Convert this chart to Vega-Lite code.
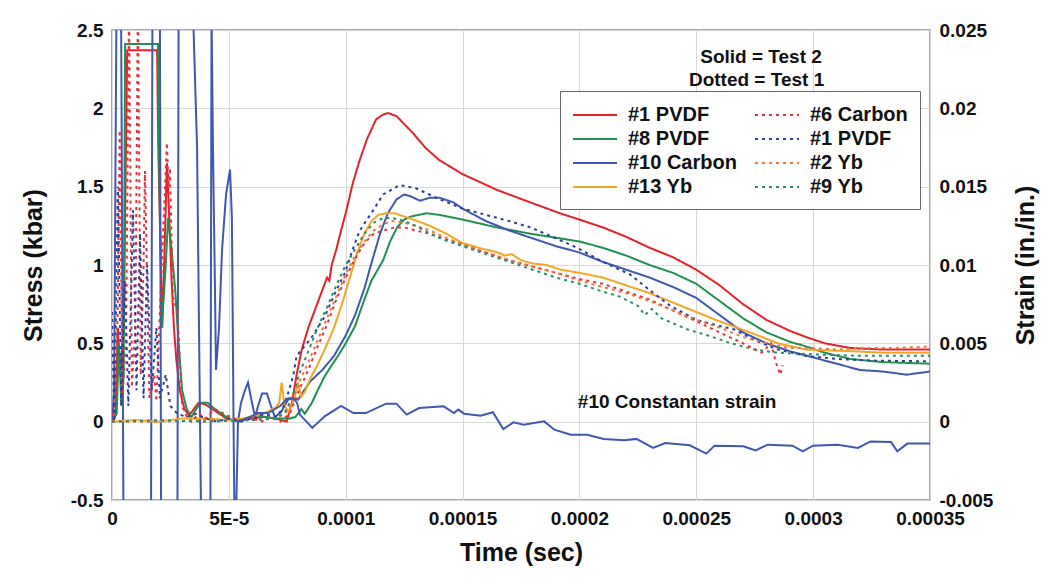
{
"$schema": "https://vega.github.io/schema/vega-lite/v6.json",
"width": 818, "height": 470,
"autosize": {"type": "none"},
"padding": {"left": 112, "top": 30, "right": 121, "bottom": 80},
"background": "white",
"config": {
 "font": "Liberation Sans",
 "view": {"stroke": "#8a8a8a", "strokeWidth": 1.5},
 "axis": {"labelFont": "Liberation Sans", "labelFontWeight": "bold", "labelFontSize": 19, "labelColor": "#111", "titleFont": "Liberation Sans", "titleFontWeight": "bold", "titleFontSize": 25, "titleColor": "#111", "gridColor": "#d9d9d9", "gridWidth": 1, "ticks": false, "domain": false, "labelPadding": 9},
 "legend": {"labelFont": "Liberation Sans", "labelFontWeight": "bold", "labelFontSize": 20, "labelColor": "#111", "symbolType": "M-1,0H3", "symbolSize": 484, "symbolStrokeWidth": 2, "strokeColor": "#666", "fillColor": "white", "padding": 12, "rowPadding": 2, "columnPadding": 14, "labelOffset": 32}
},
"datasets": {
 "stress": [
  {"series":"#1 PVDF (Test 2)","t":0,"stress":0},{"series":"#1 PVDF (Test 2)","t":1.5e-6,"stress":0.05},{"series":"#1 PVDF (Test 2)","t":2.5e-6,"stress":0.6},{"series":"#1 PVDF (Test 2)","t":3.5e-6,"stress":0.3},{"series":"#1 PVDF (Test 2)","t":5e-6,"stress":0.6},{"series":"#1 PVDF (Test 2)","t":6.5e-6,"stress":2.37},{"series":"#1 PVDF (Test 2)","t":19.3e-6,"stress":2.37},{"series":"#1 PVDF (Test 2)","t":19.8e-6,"stress":1.75},{"series":"#1 PVDF (Test 2)","t":20.6e-6,"stress":1.2},{"series":"#1 PVDF (Test 2)","t":21.5e-6,"stress":0.6},{"series":"#1 PVDF (Test 2)","t":22.5e-6,"stress":1.1},{"series":"#1 PVDF (Test 2)","t":23.5e-6,"stress":1.65},{"series":"#1 PVDF (Test 2)","t":24.5e-6,"stress":1.3},{"series":"#1 PVDF (Test 2)","t":25.5e-6,"stress":0.9},{"series":"#1 PVDF (Test 2)","t":26.5e-6,"stress":0.6},{"series":"#1 PVDF (Test 2)","t":27.5e-6,"stress":0.4},{"series":"#1 PVDF (Test 2)","t":29e-6,"stress":0.2},{"series":"#1 PVDF (Test 2)","t":31e-6,"stress":0.08},{"series":"#1 PVDF (Test 2)","t":33e-6,"stress":0.04},{"series":"#1 PVDF (Test 2)","t":35e-6,"stress":0.08},{"series":"#1 PVDF (Test 2)","t":37e-6,"stress":0.12},{"series":"#1 PVDF (Test 2)","t":40e-6,"stress":0.11},{"series":"#1 PVDF (Test 2)","t":43e-6,"stress":0.08},{"series":"#1 PVDF (Test 2)","t":46e-6,"stress":0.05},{"series":"#1 PVDF (Test 2)","t":50e-6,"stress":0.01},{"series":"#1 PVDF (Test 2)","t":55e-6,"stress":0.01},{"series":"#1 PVDF (Test 2)","t":60e-6,"stress":0.02},{"series":"#1 PVDF (Test 2)","t":65e-6,"stress":0.03},{"series":"#1 PVDF (Test 2)","t":70e-6,"stress":0.02},{"series":"#1 PVDF (Test 2)","t":74.7e-6,"stress":0.0},{"series":"#1 PVDF (Test 2)","t":77e-6,"stress":0.12},{"series":"#1 PVDF (Test 2)","t":79e-6,"stress":0.3},{"series":"#1 PVDF (Test 2)","t":81.2e-6,"stress":0.46},{"series":"#1 PVDF (Test 2)","t":84e-6,"stress":0.6},{"series":"#1 PVDF (Test 2)","t":87e-6,"stress":0.72},{"series":"#1 PVDF (Test 2)","t":90e-6,"stress":0.84},{"series":"#1 PVDF (Test 2)","t":92e-6,"stress":0.92},{"series":"#1 PVDF (Test 2)","t":93e-6,"stress":0.9},{"series":"#1 PVDF (Test 2)","t":94e-6,"stress":1.0},{"series":"#1 PVDF (Test 2)","t":96e-6,"stress":1.1},{"series":"#1 PVDF (Test 2)","t":98e-6,"stress":1.22},{"series":"#1 PVDF (Test 2)","t":100e-6,"stress":1.33},{"series":"#1 PVDF (Test 2)","t":103e-6,"stress":1.52},{"series":"#1 PVDF (Test 2)","t":106e-6,"stress":1.67},{"series":"#1 PVDF (Test 2)","t":109e-6,"stress":1.8},{"series":"#1 PVDF (Test 2)","t":113e-6,"stress":1.93},{"series":"#1 PVDF (Test 2)","t":116e-6,"stress":1.96},{"series":"#1 PVDF (Test 2)","t":118e-6,"stress":1.97},{"series":"#1 PVDF (Test 2)","t":121.8e-6,"stress":1.95},{"series":"#1 PVDF (Test 2)","t":125e-6,"stress":1.9},{"series":"#1 PVDF (Test 2)","t":128.9e-6,"stress":1.84},{"series":"#1 PVDF (Test 2)","t":134e-6,"stress":1.75},{"series":"#1 PVDF (Test 2)","t":140e-6,"stress":1.67},{"series":"#1 PVDF (Test 2)","t":150e-6,"stress":1.58},{"series":"#1 PVDF (Test 2)","t":164.6e-6,"stress":1.48},{"series":"#1 PVDF (Test 2)","t":178.9e-6,"stress":1.4},{"series":"#1 PVDF (Test 2)","t":191.7e-6,"stress":1.33},{"series":"#1 PVDF (Test 2)","t":200e-6,"stress":1.29},{"series":"#1 PVDF (Test 2)","t":210e-6,"stress":1.24},{"series":"#1 PVDF (Test 2)","t":220e-6,"stress":1.18},{"series":"#1 PVDF (Test 2)","t":230e-6,"stress":1.11},{"series":"#1 PVDF (Test 2)","t":240e-6,"stress":1.05},{"series":"#1 PVDF (Test 2)","t":250e-6,"stress":0.97},{"series":"#1 PVDF (Test 2)","t":260e-6,"stress":0.87},{"series":"#1 PVDF (Test 2)","t":270e-6,"stress":0.75},{"series":"#1 PVDF (Test 2)","t":280e-6,"stress":0.65},{"series":"#1 PVDF (Test 2)","t":290e-6,"stress":0.58},{"series":"#1 PVDF (Test 2)","t":297e-6,"stress":0.54},{"series":"#1 PVDF (Test 2)","t":305e-6,"stress":0.5},{"series":"#1 PVDF (Test 2)","t":316e-6,"stress":0.47},{"series":"#1 PVDF (Test 2)","t":330e-6,"stress":0.46},{"series":"#1 PVDF (Test 2)","t":340e-6,"stress":0.46},{"series":"#1 PVDF (Test 2)","t":350e-6,"stress":0.46},

  {"series":"#8 PVDF (Test 2)","t":0,"stress":0},{"series":"#8 PVDF (Test 2)","t":2e-6,"stress":0.05},{"series":"#8 PVDF (Test 2)","t":3e-6,"stress":0.5},{"series":"#8 PVDF (Test 2)","t":4e-6,"stress":0.1},{"series":"#8 PVDF (Test 2)","t":5e-6,"stress":0.3},{"series":"#8 PVDF (Test 2)","t":5.6e-6,"stress":2.41},{"series":"#8 PVDF (Test 2)","t":19.7e-6,"stress":2.41},{"series":"#8 PVDF (Test 2)","t":20.3e-6,"stress":1.5},{"series":"#8 PVDF (Test 2)","t":21.3e-6,"stress":0.6},{"series":"#8 PVDF (Test 2)","t":23e-6,"stress":1.0},{"series":"#8 PVDF (Test 2)","t":24e-6,"stress":1.3},{"series":"#8 PVDF (Test 2)","t":25.5e-6,"stress":1.1},{"series":"#8 PVDF (Test 2)","t":27e-6,"stress":0.85},{"series":"#8 PVDF (Test 2)","t":28.5e-6,"stress":0.5},{"series":"#8 PVDF (Test 2)","t":30e-6,"stress":0.2},{"series":"#8 PVDF (Test 2)","t":32e-6,"stress":0.08},{"series":"#8 PVDF (Test 2)","t":34e-6,"stress":0.03},{"series":"#8 PVDF (Test 2)","t":36e-6,"stress":0.08},{"series":"#8 PVDF (Test 2)","t":38e-6,"stress":0.12},{"series":"#8 PVDF (Test 2)","t":41e-6,"stress":0.12},{"series":"#8 PVDF (Test 2)","t":44e-6,"stress":0.08},{"series":"#8 PVDF (Test 2)","t":47e-6,"stress":0.05},{"series":"#8 PVDF (Test 2)","t":50e-6,"stress":0.02},{"series":"#8 PVDF (Test 2)","t":54e-6,"stress":0.0},{"series":"#8 PVDF (Test 2)","t":58e-6,"stress":0.02},{"series":"#8 PVDF (Test 2)","t":62e-6,"stress":0.04},{"series":"#8 PVDF (Test 2)","t":66e-6,"stress":0.03},{"series":"#8 PVDF (Test 2)","t":70e-6,"stress":0.02},{"series":"#8 PVDF (Test 2)","t":76e-6,"stress":0.02},{"series":"#8 PVDF (Test 2)","t":78.5e-6,"stress":0.03},{"series":"#8 PVDF (Test 2)","t":81e-6,"stress":0.08},{"series":"#8 PVDF (Test 2)","t":82.5e-6,"stress":0.05},{"series":"#8 PVDF (Test 2)","t":85.5e-6,"stress":0.12},{"series":"#8 PVDF (Test 2)","t":88e-6,"stress":0.2},{"series":"#8 PVDF (Test 2)","t":91e-6,"stress":0.29},{"series":"#8 PVDF (Test 2)","t":94e-6,"stress":0.36},{"series":"#8 PVDF (Test 2)","t":96.7e-6,"stress":0.42},{"series":"#8 PVDF (Test 2)","t":100e-6,"stress":0.5},{"series":"#8 PVDF (Test 2)","t":104e-6,"stress":0.61},{"series":"#8 PVDF (Test 2)","t":108e-6,"stress":0.78},{"series":"#8 PVDF (Test 2)","t":111e-6,"stress":0.9},{"series":"#8 PVDF (Test 2)","t":116e-6,"stress":1.03},{"series":"#8 PVDF (Test 2)","t":119e-6,"stress":1.15},{"series":"#8 PVDF (Test 2)","t":122e-6,"stress":1.24},{"series":"#8 PVDF (Test 2)","t":125e-6,"stress":1.29},{"series":"#8 PVDF (Test 2)","t":128e-6,"stress":1.31},{"series":"#8 PVDF (Test 2)","t":134.6e-6,"stress":1.33},{"series":"#8 PVDF (Test 2)","t":140e-6,"stress":1.32},{"series":"#8 PVDF (Test 2)","t":150e-6,"stress":1.29},{"series":"#8 PVDF (Test 2)","t":164.6e-6,"stress":1.24},{"series":"#8 PVDF (Test 2)","t":178.9e-6,"stress":1.2},{"series":"#8 PVDF (Test 2)","t":191.7e-6,"stress":1.17},{"series":"#8 PVDF (Test 2)","t":200e-6,"stress":1.15},{"series":"#8 PVDF (Test 2)","t":210e-6,"stress":1.11},{"series":"#8 PVDF (Test 2)","t":220e-6,"stress":1.06},{"series":"#8 PVDF (Test 2)","t":230e-6,"stress":1.0},{"series":"#8 PVDF (Test 2)","t":240e-6,"stress":0.95},{"series":"#8 PVDF (Test 2)","t":250e-6,"stress":0.88},{"series":"#8 PVDF (Test 2)","t":260e-6,"stress":0.77},{"series":"#8 PVDF (Test 2)","t":270e-6,"stress":0.66},{"series":"#8 PVDF (Test 2)","t":280e-6,"stress":0.57},{"series":"#8 PVDF (Test 2)","t":290e-6,"stress":0.51},{"series":"#8 PVDF (Test 2)","t":297e-6,"stress":0.48},{"series":"#8 PVDF (Test 2)","t":305e-6,"stress":0.44},{"series":"#8 PVDF (Test 2)","t":316e-6,"stress":0.4},{"series":"#8 PVDF (Test 2)","t":330e-6,"stress":0.38},{"series":"#8 PVDF (Test 2)","t":350e-6,"stress":0.37},

  {"series":"#10 Carbon (Test 2)","t":0,"stress":0},{"series":"#10 Carbon (Test 2)","t":0.9e-6,"stress":0.2},{"series":"#10 Carbon (Test 2)","t":1.9e-6,"stress":2.6},{"series":"#10 Carbon (Test 2)","t":3.9e-6,"stress":2.6},{"series":"#10 Carbon (Test 2)","t":4.9e-6,"stress":-0.6},{"series":"#10 Carbon (Test 2)","t":16.7e-6,"stress":-0.6},{"series":"#10 Carbon (Test 2)","t":17.3e-6,"stress":2.6},{"series":"#10 Carbon (Test 2)","t":20.5e-6,"stress":2.6},{"series":"#10 Carbon (Test 2)","t":21e-6,"stress":-0.6},{"series":"#10 Carbon (Test 2)","t":28e-6,"stress":-0.6},{"series":"#10 Carbon (Test 2)","t":28.5e-6,"stress":2.6},{"series":"#10 Carbon (Test 2)","t":34.7e-6,"stress":2.6},{"series":"#10 Carbon (Test 2)","t":36.4e-6,"stress":1.75},{"series":"#10 Carbon (Test 2)","t":38.1e-6,"stress":-0.6},{"series":"#10 Carbon (Test 2)","t":42.1e-6,"stress":-0.6},{"series":"#10 Carbon (Test 2)","t":42.6e-6,"stress":2.6},{"series":"#10 Carbon (Test 2)","t":43.2e-6,"stress":1.75},{"series":"#10 Carbon (Test 2)","t":44.1e-6,"stress":0.8},{"series":"#10 Carbon (Test 2)","t":44.5e-6,"stress":0.33},{"series":"#10 Carbon (Test 2)","t":45.8e-6,"stress":0.6},{"series":"#10 Carbon (Test 2)","t":47.1e-6,"stress":1.1},{"series":"#10 Carbon (Test 2)","t":48.8e-6,"stress":1.45},{"series":"#10 Carbon (Test 2)","t":50.5e-6,"stress":1.61},{"series":"#10 Carbon (Test 2)","t":51.3e-6,"stress":1.3},{"series":"#10 Carbon (Test 2)","t":52e-6,"stress":0.0},{"series":"#10 Carbon (Test 2)","t":52.4e-6,"stress":-0.6},{"series":"#10 Carbon (Test 2)","t":53.1e-6,"stress":-0.6},{"series":"#10 Carbon (Test 2)","t":53.9e-6,"stress":0.0},{"series":"#10 Carbon (Test 2)","t":55.2e-6,"stress":0.12},{"series":"#10 Carbon (Test 2)","t":56.9e-6,"stress":0.2},{"series":"#10 Carbon (Test 2)","t":58.2e-6,"stress":0.25},{"series":"#10 Carbon (Test 2)","t":59.5e-6,"stress":0.15},{"series":"#10 Carbon (Test 2)","t":61.2e-6,"stress":0.03},{"series":"#10 Carbon (Test 2)","t":62.5e-6,"stress":0.1},{"series":"#10 Carbon (Test 2)","t":64.2e-6,"stress":0.18},{"series":"#10 Carbon (Test 2)","t":66.3e-6,"stress":0.18},{"series":"#10 Carbon (Test 2)","t":68e-6,"stress":0.1},{"series":"#10 Carbon (Test 2)","t":69.7e-6,"stress":0.03},{"series":"#10 Carbon (Test 2)","t":72.3e-6,"stress":0.06},{"series":"#10 Carbon (Test 2)","t":75.3e-6,"stress":0.14},{"series":"#10 Carbon (Test 2)","t":77.5e-6,"stress":0.15},{"series":"#10 Carbon (Test 2)","t":79.6e-6,"stress":0.14},{"series":"#10 Carbon (Test 2)","t":81.3e-6,"stress":0.18},{"series":"#10 Carbon (Test 2)","t":85e-6,"stress":0.26},{"series":"#10 Carbon (Test 2)","t":90e-6,"stress":0.33},{"series":"#10 Carbon (Test 2)","t":95e-6,"stress":0.42},{"series":"#10 Carbon (Test 2)","t":100e-6,"stress":0.55},{"series":"#10 Carbon (Test 2)","t":104e-6,"stress":0.68},{"series":"#10 Carbon (Test 2)","t":108e-6,"stress":0.85},{"series":"#10 Carbon (Test 2)","t":110.4e-6,"stress":0.98},{"series":"#10 Carbon (Test 2)","t":114.7e-6,"stress":1.2},{"series":"#10 Carbon (Test 2)","t":118e-6,"stress":1.33},{"series":"#10 Carbon (Test 2)","t":121.8e-6,"stress":1.42},{"series":"#10 Carbon (Test 2)","t":125e-6,"stress":1.45},{"series":"#10 Carbon (Test 2)","t":127.5e-6,"stress":1.44},{"series":"#10 Carbon (Test 2)","t":131.8e-6,"stress":1.41},{"series":"#10 Carbon (Test 2)","t":136e-6,"stress":1.43},{"series":"#10 Carbon (Test 2)","t":140e-6,"stress":1.43},{"series":"#10 Carbon (Test 2)","t":146e-6,"stress":1.4},{"series":"#10 Carbon (Test 2)","t":150e-6,"stress":1.36},{"series":"#10 Carbon (Test 2)","t":160e-6,"stress":1.28},{"series":"#10 Carbon (Test 2)","t":170e-6,"stress":1.22},{"series":"#10 Carbon (Test 2)","t":180e-6,"stress":1.17},{"series":"#10 Carbon (Test 2)","t":190e-6,"stress":1.12},{"series":"#10 Carbon (Test 2)","t":200e-6,"stress":1.08},{"series":"#10 Carbon (Test 2)","t":210e-6,"stress":1.02},{"series":"#10 Carbon (Test 2)","t":220e-6,"stress":0.97},{"series":"#10 Carbon (Test 2)","t":230e-6,"stress":0.92},{"series":"#10 Carbon (Test 2)","t":240e-6,"stress":0.86},{"series":"#10 Carbon (Test 2)","t":250e-6,"stress":0.79},{"series":"#10 Carbon (Test 2)","t":260e-6,"stress":0.68},{"series":"#10 Carbon (Test 2)","t":270e-6,"stress":0.57},{"series":"#10 Carbon (Test 2)","t":280e-6,"stress":0.5},{"series":"#10 Carbon (Test 2)","t":290e-6,"stress":0.45},{"series":"#10 Carbon (Test 2)","t":300e-6,"stress":0.41},{"series":"#10 Carbon (Test 2)","t":310e-6,"stress":0.37},{"series":"#10 Carbon (Test 2)","t":320e-6,"stress":0.33},{"series":"#10 Carbon (Test 2)","t":330e-6,"stress":0.32},{"series":"#10 Carbon (Test 2)","t":340e-6,"stress":0.3},{"series":"#10 Carbon (Test 2)","t":350e-6,"stress":0.32},

  {"series":"#13 Yb (Test 2)","t":0,"stress":0},{"series":"#13 Yb (Test 2)","t":10e-6,"stress":0.01},{"series":"#13 Yb (Test 2)","t":20e-6,"stress":0.0},{"series":"#13 Yb (Test 2)","t":30e-6,"stress":0.02},{"series":"#13 Yb (Test 2)","t":40e-6,"stress":0.02},{"series":"#13 Yb (Test 2)","t":50e-6,"stress":0.01},{"series":"#13 Yb (Test 2)","t":56e-6,"stress":0.02},{"series":"#13 Yb (Test 2)","t":62e-6,"stress":0.04},{"series":"#13 Yb (Test 2)","t":66e-6,"stress":0.06},{"series":"#13 Yb (Test 2)","t":70e-6,"stress":0.09},{"series":"#13 Yb (Test 2)","t":71.5e-6,"stress":0.12},{"series":"#13 Yb (Test 2)","t":72.6e-6,"stress":0.25},{"series":"#13 Yb (Test 2)","t":73.8e-6,"stress":0.1},{"series":"#13 Yb (Test 2)","t":76e-6,"stress":0.06},{"series":"#13 Yb (Test 2)","t":78e-6,"stress":0.15},{"series":"#13 Yb (Test 2)","t":79.6e-6,"stress":0.25},{"series":"#13 Yb (Test 2)","t":81e-6,"stress":0.16},{"series":"#13 Yb (Test 2)","t":82.5e-6,"stress":0.19},{"series":"#13 Yb (Test 2)","t":85e-6,"stress":0.28},{"series":"#13 Yb (Test 2)","t":87.5e-6,"stress":0.35},{"series":"#13 Yb (Test 2)","t":91e-6,"stress":0.46},{"series":"#13 Yb (Test 2)","t":95e-6,"stress":0.6},{"series":"#13 Yb (Test 2)","t":99e-6,"stress":0.78},{"series":"#13 Yb (Test 2)","t":102e-6,"stress":0.93},{"series":"#13 Yb (Test 2)","t":105e-6,"stress":1.08},{"series":"#13 Yb (Test 2)","t":108e-6,"stress":1.2},{"series":"#13 Yb (Test 2)","t":111e-6,"stress":1.28},{"series":"#13 Yb (Test 2)","t":114e-6,"stress":1.32},{"series":"#13 Yb (Test 2)","t":117e-6,"stress":1.33},{"series":"#13 Yb (Test 2)","t":121e-6,"stress":1.33},{"series":"#13 Yb (Test 2)","t":125e-6,"stress":1.31},{"series":"#13 Yb (Test 2)","t":129e-6,"stress":1.29},{"series":"#13 Yb (Test 2)","t":136e-6,"stress":1.25},{"series":"#13 Yb (Test 2)","t":143e-6,"stress":1.2},{"series":"#13 Yb (Test 2)","t":150e-6,"stress":1.14},{"series":"#13 Yb (Test 2)","t":157e-6,"stress":1.11},{"series":"#13 Yb (Test 2)","t":165e-6,"stress":1.08},{"series":"#13 Yb (Test 2)","t":168e-6,"stress":1.06},{"series":"#13 Yb (Test 2)","t":171e-6,"stress":1.07},{"series":"#13 Yb (Test 2)","t":175e-6,"stress":1.03},{"series":"#13 Yb (Test 2)","t":180e-6,"stress":1.01},{"series":"#13 Yb (Test 2)","t":186e-6,"stress":1.0},{"series":"#13 Yb (Test 2)","t":192e-6,"stress":0.97},{"series":"#13 Yb (Test 2)","t":200e-6,"stress":0.95},{"series":"#13 Yb (Test 2)","t":210e-6,"stress":0.92},{"series":"#13 Yb (Test 2)","t":220e-6,"stress":0.87},{"series":"#13 Yb (Test 2)","t":230e-6,"stress":0.82},{"series":"#13 Yb (Test 2)","t":240e-6,"stress":0.76},{"series":"#13 Yb (Test 2)","t":250e-6,"stress":0.7},{"series":"#13 Yb (Test 2)","t":260e-6,"stress":0.64},{"series":"#13 Yb (Test 2)","t":273e-6,"stress":0.57},{"series":"#13 Yb (Test 2)","t":285e-6,"stress":0.5},{"series":"#13 Yb (Test 2)","t":297e-6,"stress":0.46},{"series":"#13 Yb (Test 2)","t":316e-6,"stress":0.45},{"series":"#13 Yb (Test 2)","t":330e-6,"stress":0.44},{"series":"#13 Yb (Test 2)","t":350e-6,"stress":0.44},

  {"series":"#6 Carbon (Test 1)","t":0,"stress":0},{"series":"#6 Carbon (Test 1)","t":2e-6,"stress":0.2},{"series":"#6 Carbon (Test 1)","t":3.3e-6,"stress":1.86},{"series":"#6 Carbon (Test 1)","t":4.5e-6,"stress":0.17},{"series":"#6 Carbon (Test 1)","t":6e-6,"stress":0.5},{"series":"#6 Carbon (Test 1)","t":7.3e-6,"stress":2.7},{"series":"#6 Carbon (Test 1)","t":8.5e-6,"stress":0.22},{"series":"#6 Carbon (Test 1)","t":10e-6,"stress":0.6},{"series":"#6 Carbon (Test 1)","t":11.1e-6,"stress":2.7},{"series":"#6 Carbon (Test 1)","t":12.3e-6,"stress":0.3},{"series":"#6 Carbon (Test 1)","t":13.5e-6,"stress":1.0},{"series":"#6 Carbon (Test 1)","t":14.1e-6,"stress":1.6},{"series":"#6 Carbon (Test 1)","t":16e-6,"stress":0.15},{"series":"#6 Carbon (Test 1)","t":18e-6,"stress":0.3},{"series":"#6 Carbon (Test 1)","t":19e-6,"stress":0.13},{"series":"#6 Carbon (Test 1)","t":21e-6,"stress":0.9},{"series":"#6 Carbon (Test 1)","t":23.5e-6,"stress":1.78},{"series":"#6 Carbon (Test 1)","t":24.2e-6,"stress":1.5},{"series":"#6 Carbon (Test 1)","t":24.8e-6,"stress":1.62},{"series":"#6 Carbon (Test 1)","t":26e-6,"stress":0.8},{"series":"#6 Carbon (Test 1)","t":28e-6,"stress":0.7},{"series":"#6 Carbon (Test 1)","t":29e-6,"stress":0.4},{"series":"#6 Carbon (Test 1)","t":30e-6,"stress":0.1},{"series":"#6 Carbon (Test 1)","t":32e-6,"stress":0.03},{"series":"#6 Carbon (Test 1)","t":34e-6,"stress":0.0},{"series":"#6 Carbon (Test 1)","t":37e-6,"stress":0.05},{"series":"#6 Carbon (Test 1)","t":40e-6,"stress":0.02},{"series":"#6 Carbon (Test 1)","t":44e-6,"stress":0.08},{"series":"#6 Carbon (Test 1)","t":48e-6,"stress":0.05},{"series":"#6 Carbon (Test 1)","t":52e-6,"stress":0.02},{"series":"#6 Carbon (Test 1)","t":56e-6,"stress":0.01},{"series":"#6 Carbon (Test 1)","t":60e-6,"stress":0.02},{"series":"#6 Carbon (Test 1)","t":64e-6,"stress":0.0},{"series":"#6 Carbon (Test 1)","t":68e-6,"stress":0.03},{"series":"#6 Carbon (Test 1)","t":72e-6,"stress":0.0},{"series":"#6 Carbon (Test 1)","t":76e-6,"stress":0.05},{"series":"#6 Carbon (Test 1)","t":80e-6,"stress":0.2},{"series":"#6 Carbon (Test 1)","t":84e-6,"stress":0.33},{"series":"#6 Carbon (Test 1)","t":88e-6,"stress":0.48},{"series":"#6 Carbon (Test 1)","t":92e-6,"stress":0.62},{"series":"#6 Carbon (Test 1)","t":96e-6,"stress":0.78},{"series":"#6 Carbon (Test 1)","t":100e-6,"stress":0.92},{"series":"#6 Carbon (Test 1)","t":104e-6,"stress":1.04},{"series":"#6 Carbon (Test 1)","t":108e-6,"stress":1.14},{"series":"#6 Carbon (Test 1)","t":112e-6,"stress":1.2},{"series":"#6 Carbon (Test 1)","t":116e-6,"stress":1.22},{"series":"#6 Carbon (Test 1)","t":121e-6,"stress":1.24},{"series":"#6 Carbon (Test 1)","t":125e-6,"stress":1.24},{"series":"#6 Carbon (Test 1)","t":130e-6,"stress":1.22},{"series":"#6 Carbon (Test 1)","t":136e-6,"stress":1.2},{"series":"#6 Carbon (Test 1)","t":142e-6,"stress":1.17},{"series":"#6 Carbon (Test 1)","t":150e-6,"stress":1.13},{"series":"#6 Carbon (Test 1)","t":160e-6,"stress":1.08},{"series":"#6 Carbon (Test 1)","t":170e-6,"stress":1.03},{"series":"#6 Carbon (Test 1)","t":180e-6,"stress":0.99},{"series":"#6 Carbon (Test 1)","t":190e-6,"stress":0.95},{"series":"#6 Carbon (Test 1)","t":200e-6,"stress":0.91},{"series":"#6 Carbon (Test 1)","t":210e-6,"stress":0.88},{"series":"#6 Carbon (Test 1)","t":220e-6,"stress":0.83},{"series":"#6 Carbon (Test 1)","t":230e-6,"stress":0.78},{"series":"#6 Carbon (Test 1)","t":240e-6,"stress":0.71},{"series":"#6 Carbon (Test 1)","t":250e-6,"stress":0.64},{"series":"#6 Carbon (Test 1)","t":260e-6,"stress":0.57},{"series":"#6 Carbon (Test 1)","t":270e-6,"stress":0.5},{"series":"#6 Carbon (Test 1)","t":278e-6,"stress":0.44},{"series":"#6 Carbon (Test 1)","t":282e-6,"stress":0.5},{"series":"#6 Carbon (Test 1)","t":284e-6,"stress":0.38},{"series":"#6 Carbon (Test 1)","t":286e-6,"stress":0.3},{"series":"#6 Carbon (Test 1)","t":287e-6,"stress":0.36},

  {"series":"#1 PVDF (Test 1)","t":0,"stress":0.7},{"series":"#1 PVDF (Test 1)","t":1e-6,"stress":0.0},{"series":"#1 PVDF (Test 1)","t":2.5e-6,"stress":1.5},{"series":"#1 PVDF (Test 1)","t":4e-6,"stress":0.1},{"series":"#1 PVDF (Test 1)","t":5.5e-6,"stress":0.9},{"series":"#1 PVDF (Test 1)","t":7e-6,"stress":0.1},{"series":"#1 PVDF (Test 1)","t":9e-6,"stress":1.35},{"series":"#1 PVDF (Test 1)","t":10.5e-6,"stress":0.2},{"series":"#1 PVDF (Test 1)","t":12e-6,"stress":1.2},{"series":"#1 PVDF (Test 1)","t":13.5e-6,"stress":0.15},{"series":"#1 PVDF (Test 1)","t":15e-6,"stress":1.0},{"series":"#1 PVDF (Test 1)","t":17e-6,"stress":0.2},{"series":"#1 PVDF (Test 1)","t":19e-6,"stress":0.6},{"series":"#1 PVDF (Test 1)","t":20.5e-6,"stress":0.15},{"series":"#1 PVDF (Test 1)","t":23e-6,"stress":0.3},{"series":"#1 PVDF (Test 1)","t":25e-6,"stress":0.1},{"series":"#1 PVDF (Test 1)","t":28e-6,"stress":0.05},{"series":"#1 PVDF (Test 1)","t":32e-6,"stress":0.03},{"series":"#1 PVDF (Test 1)","t":36e-6,"stress":0.05},{"series":"#1 PVDF (Test 1)","t":40e-6,"stress":0.02},{"series":"#1 PVDF (Test 1)","t":45e-6,"stress":0.0},{"series":"#1 PVDF (Test 1)","t":50e-6,"stress":0.02},{"series":"#1 PVDF (Test 1)","t":55e-6,"stress":0.0},{"series":"#1 PVDF (Test 1)","t":60e-6,"stress":0.02},{"series":"#1 PVDF (Test 1)","t":65e-6,"stress":0.05},{"series":"#1 PVDF (Test 1)","t":70e-6,"stress":0.03},{"series":"#1 PVDF (Test 1)","t":73e-6,"stress":0.08},{"series":"#1 PVDF (Test 1)","t":75.3e-6,"stress":0.18},{"series":"#1 PVDF (Test 1)","t":77.5e-6,"stress":0.29},{"series":"#1 PVDF (Test 1)","t":79e-6,"stress":0.42},{"series":"#1 PVDF (Test 1)","t":85.5e-6,"stress":0.54},{"series":"#1 PVDF (Test 1)","t":91e-6,"stress":0.67},{"series":"#1 PVDF (Test 1)","t":95.4e-6,"stress":0.82},{"series":"#1 PVDF (Test 1)","t":99.7e-6,"stress":0.95},{"series":"#1 PVDF (Test 1)","t":103e-6,"stress":1.1},{"series":"#1 PVDF (Test 1)","t":106e-6,"stress":1.22},{"series":"#1 PVDF (Test 1)","t":111.8e-6,"stress":1.35},{"series":"#1 PVDF (Test 1)","t":116e-6,"stress":1.45},{"series":"#1 PVDF (Test 1)","t":123e-6,"stress":1.51},{"series":"#1 PVDF (Test 1)","t":130e-6,"stress":1.49},{"series":"#1 PVDF (Test 1)","t":140e-6,"stress":1.42},{"series":"#1 PVDF (Test 1)","t":150e-6,"stress":1.36},{"series":"#1 PVDF (Test 1)","t":160e-6,"stress":1.32},{"series":"#1 PVDF (Test 1)","t":170e-6,"stress":1.28},{"series":"#1 PVDF (Test 1)","t":179e-6,"stress":1.24},{"series":"#1 PVDF (Test 1)","t":190e-6,"stress":1.17},{"series":"#1 PVDF (Test 1)","t":199e-6,"stress":1.11},{"series":"#1 PVDF (Test 1)","t":210e-6,"stress":1.02},{"series":"#1 PVDF (Test 1)","t":221.6e-6,"stress":0.94},{"series":"#1 PVDF (Test 1)","t":230e-6,"stress":0.84},{"series":"#1 PVDF (Test 1)","t":238.8e-6,"stress":0.74},{"series":"#1 PVDF (Test 1)","t":250e-6,"stress":0.65},{"series":"#1 PVDF (Test 1)","t":260e-6,"stress":0.61},{"series":"#1 PVDF (Test 1)","t":266e-6,"stress":0.59},{"series":"#1 PVDF (Test 1)","t":275e-6,"stress":0.52},{"series":"#1 PVDF (Test 1)","t":285e-6,"stress":0.46},{"series":"#1 PVDF (Test 1)","t":297e-6,"stress":0.42},{"series":"#1 PVDF (Test 1)","t":310e-6,"stress":0.4},{"series":"#1 PVDF (Test 1)","t":325e-6,"stress":0.39},{"series":"#1 PVDF (Test 1)","t":350e-6,"stress":0.385},

  {"series":"#2 Yb (Test 1)","t":0,"stress":0},{"series":"#2 Yb (Test 1)","t":20e-6,"stress":0.0},{"series":"#2 Yb (Test 1)","t":40e-6,"stress":0.01},{"series":"#2 Yb (Test 1)","t":60e-6,"stress":0.01},{"series":"#2 Yb (Test 1)","t":70e-6,"stress":0.02},{"series":"#2 Yb (Test 1)","t":74e-6,"stress":0.05},{"series":"#2 Yb (Test 1)","t":77e-6,"stress":0.12},{"series":"#2 Yb (Test 1)","t":80e-6,"stress":0.25},{"series":"#2 Yb (Test 1)","t":84e-6,"stress":0.38},{"series":"#2 Yb (Test 1)","t":88e-6,"stress":0.52},{"series":"#2 Yb (Test 1)","t":92e-6,"stress":0.66},{"series":"#2 Yb (Test 1)","t":96e-6,"stress":0.8},{"series":"#2 Yb (Test 1)","t":100e-6,"stress":0.94},{"series":"#2 Yb (Test 1)","t":104e-6,"stress":1.06},{"series":"#2 Yb (Test 1)","t":108e-6,"stress":1.15},{"series":"#2 Yb (Test 1)","t":112e-6,"stress":1.22},{"series":"#2 Yb (Test 1)","t":116e-6,"stress":1.26},{"series":"#2 Yb (Test 1)","t":120e-6,"stress":1.28},{"series":"#2 Yb (Test 1)","t":125e-6,"stress":1.27},{"series":"#2 Yb (Test 1)","t":130e-6,"stress":1.25},{"series":"#2 Yb (Test 1)","t":136e-6,"stress":1.22},{"series":"#2 Yb (Test 1)","t":142e-6,"stress":1.18},{"series":"#2 Yb (Test 1)","t":150e-6,"stress":1.13},{"series":"#2 Yb (Test 1)","t":160e-6,"stress":1.08},{"series":"#2 Yb (Test 1)","t":170e-6,"stress":1.03},{"series":"#2 Yb (Test 1)","t":180e-6,"stress":0.99},{"series":"#2 Yb (Test 1)","t":190e-6,"stress":0.95},{"series":"#2 Yb (Test 1)","t":200e-6,"stress":0.9},{"series":"#2 Yb (Test 1)","t":210e-6,"stress":0.86},{"series":"#2 Yb (Test 1)","t":220e-6,"stress":0.82},{"series":"#2 Yb (Test 1)","t":230e-6,"stress":0.77},{"series":"#2 Yb (Test 1)","t":240e-6,"stress":0.71},{"series":"#2 Yb (Test 1)","t":250e-6,"stress":0.65},{"series":"#2 Yb (Test 1)","t":260e-6,"stress":0.6},{"series":"#2 Yb (Test 1)","t":270e-6,"stress":0.54},{"series":"#2 Yb (Test 1)","t":280e-6,"stress":0.5},{"series":"#2 Yb (Test 1)","t":290e-6,"stress":0.47},{"series":"#2 Yb (Test 1)","t":300e-6,"stress":0.47},{"series":"#2 Yb (Test 1)","t":310e-6,"stress":0.46},{"series":"#2 Yb (Test 1)","t":320e-6,"stress":0.47},{"series":"#2 Yb (Test 1)","t":335e-6,"stress":0.47},{"series":"#2 Yb (Test 1)","t":350e-6,"stress":0.48},

  {"series":"#9 Yb (Test 1)","t":0,"stress":0},{"series":"#9 Yb (Test 1)","t":20e-6,"stress":0.01},{"series":"#9 Yb (Test 1)","t":40e-6,"stress":0.0},{"series":"#9 Yb (Test 1)","t":60e-6,"stress":0.01},{"series":"#9 Yb (Test 1)","t":70e-6,"stress":0.02},{"series":"#9 Yb (Test 1)","t":74e-6,"stress":0.06},{"series":"#9 Yb (Test 1)","t":77e-6,"stress":0.15},{"series":"#9 Yb (Test 1)","t":80e-6,"stress":0.3},{"series":"#9 Yb (Test 1)","t":84e-6,"stress":0.45},{"series":"#9 Yb (Test 1)","t":88e-6,"stress":0.6},{"series":"#9 Yb (Test 1)","t":92e-6,"stress":0.73},{"series":"#9 Yb (Test 1)","t":96e-6,"stress":0.87},{"series":"#9 Yb (Test 1)","t":100e-6,"stress":1.0},{"series":"#9 Yb (Test 1)","t":104e-6,"stress":1.1},{"series":"#9 Yb (Test 1)","t":108e-6,"stress":1.2},{"series":"#9 Yb (Test 1)","t":112e-6,"stress":1.27},{"series":"#9 Yb (Test 1)","t":116e-6,"stress":1.3},{"series":"#9 Yb (Test 1)","t":120e-6,"stress":1.3},{"series":"#9 Yb (Test 1)","t":125e-6,"stress":1.28},{"series":"#9 Yb (Test 1)","t":130e-6,"stress":1.25},{"series":"#9 Yb (Test 1)","t":136e-6,"stress":1.2},{"series":"#9 Yb (Test 1)","t":142e-6,"stress":1.16},{"series":"#9 Yb (Test 1)","t":150e-6,"stress":1.12},{"series":"#9 Yb (Test 1)","t":160e-6,"stress":1.07},{"series":"#9 Yb (Test 1)","t":170e-6,"stress":1.02},{"series":"#9 Yb (Test 1)","t":180e-6,"stress":0.97},{"series":"#9 Yb (Test 1)","t":190e-6,"stress":0.92},{"series":"#9 Yb (Test 1)","t":200e-6,"stress":0.88},{"series":"#9 Yb (Test 1)","t":210e-6,"stress":0.83},{"series":"#9 Yb (Test 1)","t":217e-6,"stress":0.8},{"series":"#9 Yb (Test 1)","t":225e-6,"stress":0.74},{"series":"#9 Yb (Test 1)","t":228e-6,"stress":0.68},{"series":"#9 Yb (Test 1)","t":231e-6,"stress":0.72},{"series":"#9 Yb (Test 1)","t":235e-6,"stress":0.66},{"series":"#9 Yb (Test 1)","t":246e-6,"stress":0.59},{"series":"#9 Yb (Test 1)","t":255e-6,"stress":0.55},{"series":"#9 Yb (Test 1)","t":265e-6,"stress":0.5},{"series":"#9 Yb (Test 1)","t":275e-6,"stress":0.46},{"series":"#9 Yb (Test 1)","t":285e-6,"stress":0.44},{"series":"#9 Yb (Test 1)","t":300e-6,"stress":0.43},{"series":"#9 Yb (Test 1)","t":320e-6,"stress":0.42},{"series":"#9 Yb (Test 1)","t":335e-6,"stress":0.42},{"series":"#9 Yb (Test 1)","t":350e-6,"stress":0.42}
 ],
 "strain": [
  {"t":53.9e-6,"strain":0.0},{"t":59e-6,"strain":0.0003},{"t":62.5e-6,"strain":0.00055},{"t":66.8e-6,"strain":0.00055},{"t":71.9e-6,"strain":0.001},{"t":75.3e-6,"strain":0.0015},{"t":77.5e-6,"strain":0.0015},{"t":79.2e-6,"strain":0.0012},{"t":80.4e-6,"strain":0.00045},{"t":85.7e-6,"strain":-0.0004},{"t":91e-6,"strain":0.00034},{"t":98e-6,"strain":0.001},{"t":103.3e-6,"strain":0.00055},{"t":108.6e-6,"strain":0.00055},{"t":117.3e-6,"strain":0.00115},{"t":121.7e-6,"strain":0.00115},{"t":126.1e-6,"strain":0.00045},{"t":131.4e-6,"strain":0.00087},{"t":141.9e-6,"strain":0.00098},{"t":146.3e-6,"strain":0.00055},{"t":148.1e-6,"strain":0.00077},{"t":150.7e-6,"strain":0.00051},{"t":157.7e-6,"strain":0.00038},{"t":163e-6,"strain":0.0006},{"t":167.4e-6,"strain":-0.00047},{"t":171.8e-6,"strain":-0.00004},{"t":176.1e-6,"strain":-0.00019},{"t":184.9e-6,"strain":0.00002},{"t":189.3e-6,"strain":-0.00051},{"t":196.3e-6,"strain":-0.00083},{"t":203.3e-6,"strain":-0.00083},{"t":210.4e-6,"strain":-0.0011},{"t":219.2e-6,"strain":-0.00119},{"t":224.4e-6,"strain":-0.0011},{"t":231.5e-6,"strain":-0.00168},{"t":236.7e-6,"strain":-0.00136},{"t":247.2e-6,"strain":-0.00151},{"t":254.3e-6,"strain":-0.00204},{"t":257.8e-6,"strain":-0.00153},{"t":270.1e-6,"strain":-0.00157},{"t":275.4e-6,"strain":-0.00183},{"t":280.6e-6,"strain":-0.00147},{"t":291.1e-6,"strain":-0.00153},{"t":295.6e-6,"strain":-0.00189},{"t":299.9e-6,"strain":-0.00153},{"t":310.4e-6,"strain":-0.00147},{"t":319.2e-6,"strain":-0.00168},{"t":324.5e-6,"strain":-0.00126},{"t":333.3e-6,"strain":-0.0013},{"t":336e-6,"strain":-0.00189},{"t":340.3e-6,"strain":-0.0014},{"t":350e-6,"strain":-0.0014}
 ],
 "notes": [
  {"t":277.7e-6,"stress":2.33,"label":"Solid = Test 2"},
  {"t":275.8e-6,"stress":2.183,"label":"Dotted = Test 1"},
  {"t":241.8e-6,"stress":0.128,"label":"#10 Constantan strain"}
 ]
},
"encoding": {
 "x": {"field": "t", "type": "quantitative", "scale": {"domain": [0, 0.00035], "nice": false, "zero": false},
  "axis": {"title": "Time (sec)", "values": [0, 0.00005, 0.0001, 0.00015, 0.0002, 0.00025, 0.0003, 0.00035], "labelExpr": "['0','5E-5','0.0001','0.00015','0.0002','0.00025','0.0003','0.00035'][round(datum.value/0.00005)]", "titlePadding": 12, "labelFlush": false}}
},
"layer": [
 {
  "encoding": {
   "y": {"field": "stress", "type": "quantitative", "scale": {"domain": [-0.5, 2.5], "nice": false, "zero": false},
    "axis": {"title": "Stress (kbar)", "values": [-0.5, 0, 0.5, 1, 1.5, 2, 2.5], "labelExpr": "['-0.5','0','0.5','1','1.5','2','2.5'][round((datum.value+0.5)/0.5)]", "titlePadding": 24}}
  },
  "layer": [
   {"data": {"name": "stress"}, "mark": {"type": "line", "clip": true, "strokeWidth": 2},
    "encoding": {
     "color": {"field": "series", "type": "nominal",
      "scale": {"domain": ["#1 PVDF (Test 2)","#8 PVDF (Test 2)","#10 Carbon (Test 2)","#13 Yb (Test 2)","#6 Carbon (Test 1)","#1 PVDF (Test 1)","#2 Yb (Test 1)","#9 Yb (Test 1)"],
               "range": ["#E8202A","#1F9150","#3F58B0","#F5A623","#E8303A","#2E3F99","#F07838","#2E8B6A"]},
      "legend": {"title": null, "orient": "none", "legendX": 448, "legendY": 61, "columns": 2, "labelExpr": "replace(replace(datum.label,' (Test 1)',''),' (Test 2)','')"}},
     "strokeDash": {"field": "series", "type": "nominal",
      "scale": {"domain": ["#1 PVDF (Test 2)","#8 PVDF (Test 2)","#10 Carbon (Test 2)","#13 Yb (Test 2)","#6 Carbon (Test 1)","#1 PVDF (Test 1)","#2 Yb (Test 1)","#9 Yb (Test 1)"],
               "range": [[1,0],[1,0],[1,0],[1,0],[3,4],[3,4],[3,4],[3,4]]},
      "legend": {"title": null, "orient": "none", "legendX": 448, "legendY": 61, "columns": 2, "labelExpr": "replace(replace(datum.label,' (Test 1)',''),' (Test 2)','')"}}
    }},
   {"data": {"name": "notes"}, "mark": {"type": "text", "fontWeight": "bold", "fontSize": 19, "font": "Liberation Sans", "color": "#111", "align": "center", "baseline": "middle"},
    "encoding": {"text": {"field": "label"}}}
  ]
 },
 {
  "data": {"name": "strain"},
  "mark": {"type": "line", "clip": true, "strokeWidth": 2, "color": "#3F58B0"},
  "encoding": {
   "y": {"field": "strain", "type": "quantitative", "scale": {"domain": [-0.005, 0.025], "nice": false, "zero": false},
    "axis": {"orient": "right", "title": "Strain (in./in.)", "titleAngle": 270, "grid": false, "values": [-0.005, 0, 0.005, 0.01, 0.015, 0.02, 0.025], "labelExpr": "['-0.005','0','0.005','0.01','0.015','0.02','0.025'][round((datum.value+0.005)/0.005)]", "titlePadding": 46}}
  }
 }
],
"resolve": {"scale": {"y": "independent"}}
}
